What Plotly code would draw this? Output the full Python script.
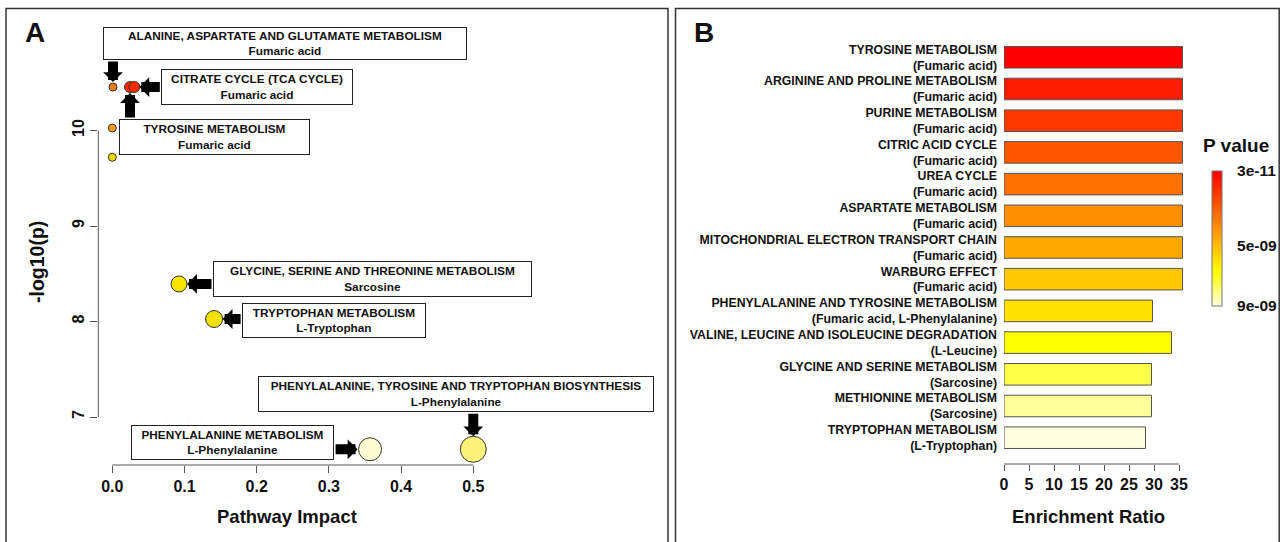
import plotly.graph_objects as go

# ---------------- DATA ----------------
# Panel A : pathway impact plot
pathways_A = ["ALANINE, ASPARTATE AND GLUTAMATE METABOLISM", "TYROSINE METABOLISM",
              "CITRATE CYCLE (TCA CYCLE)", "", "",
              "GLYCINE, SERINE AND THREONINE METABOLISM", "TRYPTOPHAN METABOLISM",
              "PHENYLALANINE METABOLISM", "PHENYLALANINE, TYROSINE AND TRYPTOPHAN BIOSYNTHESIS"]
compounds_A = ["Fumaric acid", "Fumaric acid", "Fumaric acid", "", "",
               "Sarcosine", "L-Tryptophan", "L-Phenylalanine", "L-Phenylalanine"]
impact_A = [0.001, 0.0245, 0.0305, 0.0, 0.0, 0.0924, 0.141, 0.357, 0.500]
neglogp_A = [10.455, 10.455, 10.455, 10.026, 9.72, 8.393, 8.026, 6.662, 6.662]
xticks_A = [0.0, 0.1, 0.2, 0.3, 0.4, 0.5]
yticks_A = [7, 8, 9, 10]

# Panel B : enrichment ratio bars
pathways_B = ["TYROSINE METABOLISM", "ARGININE AND PROLINE METABOLISM", "PURINE METABOLISM",
              "CITRIC ACID CYCLE", "UREA CYCLE", "ASPARTATE METABOLISM",
              "MITOCHONDRIAL ELECTRON TRANSPORT CHAIN", "WARBURG EFFECT",
              "PHENYLALANINE AND TYROSINE METABOLISM", "VALINE, LEUCINE AND ISOLEUCINE DEGRADATION",
              "GLYCINE AND SERINE METABOLISM", "METHIONINE METABOLISM", "TRYPTOPHAN METABOLISM"]
compounds_B = ["Fumaric acid", "Fumaric acid", "Fumaric acid", "Fumaric acid", "Fumaric acid",
               "Fumaric acid", "Fumaric acid", "Fumaric acid", "Fumaric acid, L-Phenylalanine",
               "L-Leucine", "Sarcosine", "Sarcosine", "L-Tryptophan"]
enrichment_B = [35.7, 35.7, 35.7, 35.7, 35.7, 35.7, 35.7, 35.7, 29.7, 33.5, 29.5, 29.5, 28.3]
pvalue_B = [3.0e-11, 7.8e-10, 1.5e-09, 2.3e-09, 3.0e-09, 3.8e-09, 4.5e-09, 5.3e-09,
            6.0e-09, 6.8e-09, 7.5e-09, 8.3e-09, 9.0e-09]
xticks_B = [0, 5, 10, 15, 20, 25, 30, 35]
cbar_ticks = [3e-11, 5e-09, 9e-09]
cbar_ticktext = ["3e-11", "5e-09", "9e-09"]

# ---------------- STYLE ----------------
W, H = 1280, 542
FONT = "Liberation Sans, Arial, Helvetica, sans-serif"
point_colors = ["#EE7E0A", "#FF2A00", "#FF2A00", "#F29A10", "#F5D400",
                "#F6E400", "#F2E000", "#FFFBD2", "#FFF27A"]
point_sizes = [8, 11, 11, 8, 8, 16, 17, 23, 26]
# per labelled point: box offset (dx, dy px, dy up positive), box (w, h), arrow tail (ax, ay), standoff
label_style = {
    0: dict(dx=172, dy=43.5, w=364, h=33, ax=0, ay=-27, so=5),
    1: dict(dx=84.5, dy=-50, w=191, h=36, ax=0, ay=32, so=6),
    2: dict(dx=122.7, dy=0, w=192, h=36, ax=27, ay=0, so=5),
    5: dict(dx=193.5, dy=5, w=319, h=36, ax=34, ay=0, so=8),
    6: dict(dx=120, dy=-1.5, w=184, h=35, ax=28, ay=0, so=8.5),
    7: dict(dx=-137.5, dy=6.8, w=203, h=35, ax=-36, ay=0, so=12.5),
    8: dict(dx=-17.3, dy=55.3, w=396, h=36, ax=0, ay=-37, so=13),
}

def px_x(px):
    return px / W

def px_y(py):
    return 1 - py / H

# Panel A geometry (page pixels)
A_x0px, A_xscale = 112.3, 722.0      # x=0 pixel, pixels per unit
A_left, A_right = 98.3, 520.0
A_y7px, A_yscale = 417.0, 95.5
A_top, A_bot = 18.0, 465.0
A_xrange = [(A_left - A_x0px) / A_xscale, (A_right - A_x0px) / A_xscale]
A_yrange = [7 + (A_y7px - A_bot) / A_yscale, 7 + (A_y7px - A_top) / A_yscale]

# Panel B geometry
B_left, B_scale = 1004.0, 5.0
B_xmax = 36
B_top_center, B_step = 57.3, 31.7
B_bot = 464.0
n_b = len(pathways_B)
B_range_lo = -0.5
B_range_hi = (n_b - 1) + (B_bot - (B_top_center + (n_b - 1) * B_step)) / B_step
B_top_px = B_top_center - 0.5 * B_step

fig = go.Figure()

fig.add_trace(go.Scatter(
    x=impact_A, y=neglogp_A, mode="markers", xaxis="x", yaxis="y",
    marker=dict(color=point_colors, size=point_sizes, line=dict(color="#333333", width=1), opacity=1),
    hoverinfo="skip", showlegend=False))

cat_labels = [f"{p}<br>({c})" for p, c in zip(pathways_B, compounds_B)]
cvals = [-p * 1e9 for p in pvalue_B]
fig.add_trace(go.Bar(
    x=enrichment_B, y=list(range(n_b)), orientation="h", xaxis="x2", yaxis="y2",
    width=0.68,
    marker=dict(color=cvals, cmin=-max(cbar_ticks) * 1e9, cmax=-min(cbar_ticks) * 1e9,
                colorscale=[[0, "#FFFFE0"], [0.25, "#FFFF00"], [1, "#FF0000"]],
                line=dict(color="#555555", width=1),
                showscale=True,
                colorbar=dict(x=px_x(1202), xanchor="left", y=px_y(161), yanchor="top",
                              len=155, lenmode="pixels", thickness=10, thicknessmode="pixels",
                              outlinewidth=1, outlinecolor="#777777",
                              tickvals=[-t * 1e9 for t in cbar_ticks], ticktext=cbar_ticktext,
                              ticks="outside", ticklen=12, tickcolor="rgba(0,0,0,0)",
                              tickfont=dict(family=FONT, size=15.5, color="#111", weight="bold"))),
    hoverinfo="skip", showlegend=False))

axis_common = dict(showgrid=False, zeroline=False, showline=False)
fig.update_layout(
    width=W, height=H, margin=dict(l=0, r=0, t=0, b=0, autoexpand=False),
    paper_bgcolor="white", plot_bgcolor="rgba(0,0,0,0)",
    xaxis=dict(domain=[px_x(A_left), px_x(A_right)], range=A_xrange, tickvals=xticks_A,
               ticktext=[f"{v:.1f}" for v in xticks_A], ticks="outside", ticklen=7,
               tickcolor="#555", tickwidth=1,
               tickfont=dict(family=FONT, size=16, color="#111", weight="bold"), **axis_common),
    yaxis=dict(domain=[px_y(A_bot), px_y(A_top)], range=A_yrange, tickvals=yticks_A,
               ticks="outside", ticklen=7, tickcolor="#555", tickwidth=1, tickangle=-90,
               tickfont=dict(family=FONT, size=16, color="#111", weight="bold"), **axis_common),
    xaxis2=dict(domain=[px_x(B_left), px_x(B_left + B_xmax * B_scale)], range=[0, B_xmax],
                tickvals=xticks_B, ticks="outside", ticklen=6, tickcolor="#555", tickwidth=1,
                tickfont=dict(family=FONT, size=16, color="#111", weight="bold"), anchor="y2",
                **axis_common),
    yaxis2=dict(domain=[px_y(B_bot), px_y(B_top_px)], range=[B_range_hi, B_range_lo],
                tickvals=list(range(n_b)), ticktext=cat_labels, ticks="", anchor="x2",
                ticklabelstandoff=6,
                tickfont=dict(family=FONT, size=12.3, color="#111", weight="bold"), **axis_common),
)

shapes = []
# panel borders
shapes.append(dict(type="rect", xref="paper", yref="paper", x0=px_x(6), x1=px_x(668),
                   y0=-0.02, y1=px_y(8.5), line=dict(color="#333", width=1.5)))
shapes.append(dict(type="rect", xref="paper", yref="paper", x0=px_x(675.5), x1=px_x(1279.2),
                   y0=-0.02, y1=px_y(8.5), line=dict(color="#333", width=1.5)))
# R-style axis lines spanning first to last tick
shapes.append(dict(type="line", xref="x", yref="y domain", x0=min(xticks_A), x1=max(xticks_A),
                   y0=0, y1=0, line=dict(color="#555", width=1)))
shapes.append(dict(type="line", xref="x domain", yref="y", x0=0, x1=0,
                   y0=min(yticks_A), y1=max(yticks_A), line=dict(color="#555", width=1)))
shapes.append(dict(type="line", xref="x2", yref="y2 domain", x0=min(xticks_B), x1=max(xticks_B),
                   y0=0, y1=0, line=dict(color="#555", width=1)))
fig.update_layout(shapes=shapes)

ann = []
for i, st in label_style.items():
    ann.append(dict(x=impact_A[i], y=neglogp_A[i], xref="x", yref="y", text="",
                    showarrow=True, arrowhead=1, arrowwidth=10, arrowsize=0.33,
                    arrowcolor="black", ax=st["ax"], ay=st["ay"], standoff=st["so"]))
for i, st in label_style.items():
    ann.append(dict(x=impact_A[i], y=neglogp_A[i], xref="x", yref="y",
                    xshift=st["dx"], yshift=st["dy"], showarrow=False,
                    text=f"{pathways_A[i]}<br>{compounds_A[i]}",
                    width=st["w"] - 2, height=st["h"] - 2, borderpad=0,
                    bgcolor="white", bordercolor="#222", borderwidth=1, align="center",
                    font=dict(family=FONT, size=11.8, color="#111", weight="bold")))

def title_ann(text, x, y, size, angle=0):
    return dict(text=text, x=px_x(x), y=px_y(y), xref="paper", yref="paper", showarrow=False,
                textangle=angle, xanchor="center", yanchor="middle",
                font=dict(family=FONT, size=size, color="#111", weight="bold"))

ann.append(title_ann("Pathway Impact", 286.5, 516, 18.5))
ann.append(title_ann("-log10(p)", 37, 262, 19.5, -90))
ann.append(title_ann("Enrichment Ratio", 1088, 516, 18.5))
ann.append(title_ann("A", 35, 33, 28))
ann.append(title_ann("B", 704, 33, 28))
ann.append(dict(text="P value", x=px_x(1201), y=px_y(145), xref="paper", yref="paper",
                showarrow=False, xanchor="left", yanchor="middle",
                font=dict(family=FONT, size=19, color="#111", weight="bold")))
fig.update_layout(annotations=ann)

fig.write_html("out.html", config={"displayModeBar": False},
               post_script="document.body.style.margin='0px';document.body.style.overflow='hidden';")
